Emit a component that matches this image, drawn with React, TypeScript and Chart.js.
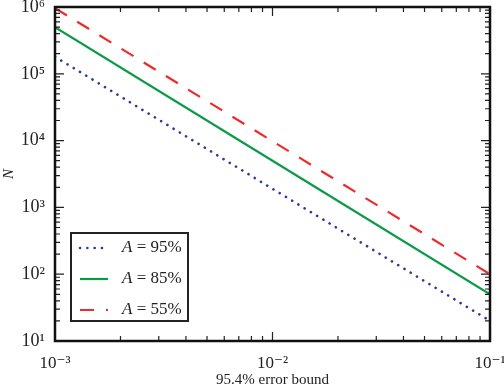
import React, { useEffect, useRef } from "react";
import { Chart, registerables } from "chart.js";

Chart.register(...registerables);

const errorBounds = [0.001, 0.01, 0.1];
const n95 = [180000, 1900, 20];
const n85 = [500000, 5000, 50];
const n55 = [960000, 9800, 100];
const seriesLabels = ["95%", "85%", "55%"];
const xTickValues = [0.001, 0.01, 0.1];
const xTickLabels = ["10⁻³", "10⁻²", "10⁻¹"];
const yTickValues = [10, 100, 1000, 10000, 100000, 1000000];
const yTickLabels = ["10¹", "10²", "10³", "10⁴", "10⁵", "10⁶"];

const SERIF = "'Liberation Serif', 'DejaVu Serif', serif";

const frameTicks = {
  id: "frameTicks",
  afterDatasetsDraw(chart: any) {
    const ctx = chart.ctx;
    const { left, right, top, bottom } = chart.chartArea;
    const xs = chart.scales.x;
    const ys = chart.scales.y;
    ctx.save();
    ctx.strokeStyle = "#222";
    ctx.lineWidth = 1.2;
    const decadesX = [-3, -2, -1];
    for (const d of decadesX) {
      for (let m = 1; m <= 9; m++) {
        const v = m * Math.pow(10, d);
        if (v > 0.1 + 1e-9) continue;
        const px = xs.getPixelForValue(v);
        const len = m === 1 ? 9 : 5;
        ctx.beginPath();
        ctx.moveTo(px, bottom);
        ctx.lineTo(px, bottom - len);
        ctx.moveTo(px, top);
        ctx.lineTo(px, top + len);
        ctx.stroke();
      }
    }
    for (let d = 1; d <= 6; d++) {
      for (let m = 1; m <= 9; m++) {
        const v = m * Math.pow(10, d);
        if (v > 1e6 + 1) continue;
        const py = ys.getPixelForValue(v);
        const len = m === 1 ? 9 : 5;
        ctx.beginPath();
        ctx.moveTo(left, py);
        ctx.lineTo(left + len, py);
        ctx.moveTo(right, py);
        ctx.lineTo(right - len, py);
        ctx.stroke();
      }
    }
    ctx.lineWidth = 2.5;
    ctx.strokeStyle = "#111";
    ctx.strokeRect(left, top, right - left, bottom - top);

    // legend
    const lx = left + 16;
    const ly = 233;
    const lw = 117;
    const lh = 88;
    ctx.fillStyle = "#fff";
    ctx.fillRect(lx, ly, lw, lh);
    ctx.lineWidth = 2;
    ctx.strokeStyle = "#222";
    ctx.strokeRect(lx, ly, lw, lh);
    chart.data.datasets.forEach((ds: any, i: number) => {
      const cy = ly + 15 + i * 31;
      ctx.save();
      ctx.strokeStyle = ds.borderColor;
      ctx.lineWidth = ds.borderWidth;
      ctx.setLineDash(ds.borderDash || []);
      ctx.lineCap = ds.borderCapStyle || "butt";
      ctx.beginPath();
      ctx.moveTo(lx + 9, cy);
      ctx.lineTo(lx + 37, cy);
      ctx.stroke();
      ctx.restore();
      ctx.fillStyle = "#222";
      ctx.textBaseline = "middle";
      ctx.font = `italic 17px ${SERIF}`;
      ctx.fillText("A", lx + 51, cy);
      const aw = ctx.measureText("A").width;
      ctx.font = `17px ${SERIF}`;
      ctx.fillText(" = " + seriesLabels[i], lx + 51 + aw, cy);
    });
    ctx.restore();
  },
};

export default function App() {
  const ref = useRef<HTMLCanvasElement>(null);
  useEffect(() => {
    const mk = (ys: number[]) => errorBounds.map((x, i) => ({ x, y: ys[i] }));
    const chart = new Chart(ref.current!, {
      type: "line",
      data: {
        datasets: [
          {
            label: "A = " + seriesLabels[0],
            data: mk(n95),
            borderColor: "#2e3a96",
            borderWidth: 2.6,
            borderDash: [0.1, 7.2],
            borderCapStyle: "round",
            pointRadius: 0,
            fill: false,
          },
          {
            label: "A = " + seriesLabels[1],
            data: mk(n85),
            borderColor: "#0b9b48",
            borderWidth: 2.2,
            pointRadius: 0,
            fill: false,
          },
          {
            label: "A = " + seriesLabels[2],
            data: mk(n55),
            borderColor: "#ee2b2b",
            borderWidth: 2.2,
            borderDash: [14, 12],
            pointRadius: 0,
            fill: false,
          },
        ] as any,
      },
      options: {
        responsive: false,
        animation: false,
        layout: { padding: { top: 7, right: 14, left: 0, bottom: 0 } },
        plugins: { legend: { display: false }, tooltip: { enabled: false } },
        scales: {
          x: {
            type: "logarithmic",
            min: 0.001,
            max: 0.1,
            afterBuildTicks: (s: any) => {
              s.ticks = xTickValues.map((v) => ({ value: v }));
            },
            afterFit: (s: any) => {
              s.height = 48;
              s.paddingLeft = 0;
              s.paddingRight = 0;
            },
            ticks: {
              autoSkip: false,
              maxRotation: 0,
              padding: 4,
              color: "#222",
              font: { family: SERIF, size: 17 },
              callback: (v: any) => {
                const i = xTickValues.findIndex((t) => Math.abs(t - v) / t < 1e-6);
                return i >= 0 ? xTickLabels[i] : "";
              },
            },
            grid: { display: false },
            border: { display: false },
            title: {
              display: true,
              text: "95.4% error bound",
              color: "#222",
              font: { family: SERIF, size: 15 },
              padding: { top: 0, bottom: 0 },
            },
          },
          y: {
            type: "logarithmic",
            min: 10,
            max: 1000000,
            afterBuildTicks: (s: any) => {
              s.ticks = yTickValues.map((v) => ({ value: v }));
            },
            afterFit: (s: any) => {
              s.width = 55;
              s.paddingTop = 0;
              s.paddingBottom = 0;
            },
            ticks: {
              autoSkip: false,
              padding: 2,
              color: "#222",
              font: { family: SERIF, size: 18 },
              callback: (v: any) => {
                const i = yTickValues.findIndex((t) => Math.abs(t - v) / t < 1e-6);
                return i >= 0 ? yTickLabels[i] : "";
              },
            },
            grid: { display: false },
            border: { display: false },
            title: {
              display: true,
              text: "N",
              color: "#222",
              font: { family: SERIF, size: 15, style: "italic" },
              padding: { top: 0, bottom: 0 },
            },
          },
        },
      } as any,
      plugins: [frameTicks],
    });
    return () => chart.destroy();
  }, []);
  return (
    <div style={{ position: "fixed", left: 0, top: 0, width: 504, height: 389, background: "#fff" }}>
      <canvas ref={ref} width={504} height={389} />
    </div>
  );
}
